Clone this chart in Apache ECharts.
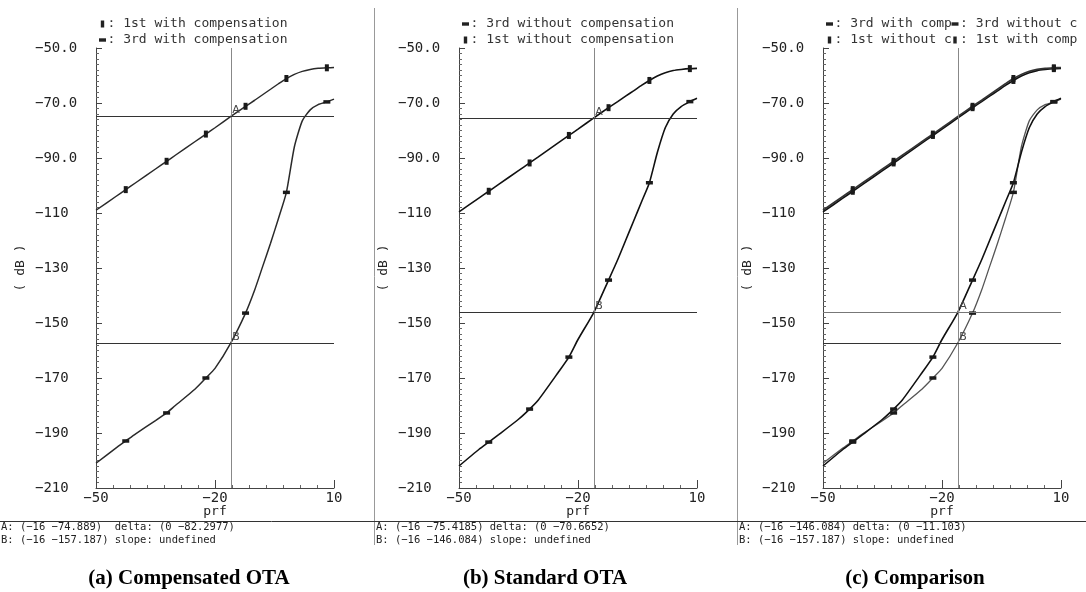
<!DOCTYPE html>
<html><head><meta charset="utf-8">
<script src="https://cdn.jsdelivr.net/npm/echarts@6/dist/echarts.min.js"></script>
<style>html,body{margin:0;padding:0;background:#fff}#c{width:1086px;height:592px}</style>
</head><body><div id="c"></div>
<script>
// ---- data ----
const X = [-50,-45,-42.5,-40,-35,-32.2,-30,-25,-22.3,-20,-16,-12.3,-10,-8,-6,-4,-2,0,2,4,6,8.2,10];
const firstWithComp    = [-109,-104,-101.5,-99,-94,-91.2,-89,-84,-81.3,-79,-74.9,-71.2,-69,-67,-65,-63,-61.1,-59.6,-58.5,-57.8,-57.4,-57.2,-57.1];
const thirdWithComp    = [-201,-195.5,-192.9,-190.3,-185.5,-182.7,-180,-174,-170,-166.5,-157.2,-146.4,-138,-129.5,-121,-112,-102.5,-86,-76.5,-72.5,-70.6,-69.6,-68.6];
const firstWithoutComp = [-109.6,-104.6,-102.1,-99.6,-94.6,-91.8,-89.6,-84.5,-81.8,-79.5,-75.4,-71.7,-69.5,-67.5,-65.6,-63.6,-61.8,-60.2,-59,-58.2,-57.8,-57.5,-57.4];
const thirdWithoutComp = [-202,-196,-193.3,-190.6,-185,-181.3,-178,-168,-162.4,-156,-146.1,-134.4,-127,-120,-113,-106,-99,-88,-79,-74,-71.3,-69.5,-68.3];
const markerX = [-42.5,-32.2,-22.3,-12.3,-2,8.2];
const cursorX = -16;
const cursorA = [-74.889, -75.4185, -146.084];
const cursorB = [-157.187, -146.084, -157.187];
const infoA = ['A: (\u221216 \u221274.889)  delta: (0 \u221282.2977)', 'A: (\u221216 \u221275.4185) delta: (0 \u221270.6652)', 'A: (\u221216 \u2212146.084) delta: (0 \u221211.103)'];
const infoB = ['B: (\u221216 \u2212157.187) slope: undefined', 'B: (\u221216 \u2212146.084) slope: undefined', 'B: (\u221216 \u2212157.187) slope: undefined'];
const captions = ['(a) Compensated OTA', '(b) Standard OTA', '(c) Comparison'];
const N1 = '1st with compensation', N3 = '3rd with compensation';
const M1 = '1st without compensation', M3 = '3rd without compensation';
const yMin = -210, yMax = -50, yStep = 20;
const xMin = -50, xMax = 10, xStep = 30;

// ---- layout ----
const MONO = 'DejaVu Sans Mono';
const gridLeft = [96, 459, 823];
const GT = 48, GW = 238, GH = 440;
const pairs = ys => X.map((x, i) => [x, ys[i]]);
const minus = s => String(s).replace('-', '\u2212');

const panels = [
  { curves: [[N1, firstWithComp, '1st', '#2a2a2a', 1.5], [N3, thirdWithComp, '3rd', '#2a2a2a', 1.5]],
    legend: [[N1, '1st', 0, 0], [N3, '3rd', 0, 1]] },
  { curves: [[M3, thirdWithoutComp, '3rd', '#111', 1.6], [M1, firstWithoutComp, '1st', '#111', 1.6]],
    legend: [[M3, '3rd', 0, 0], [M1, '1st', 0, 1]] },
  { curves: [[N3, thirdWithComp, '3rd', '#555', 1.3], [M3, thirdWithoutComp, '3rd', '#111', 1.6],
             [M1, firstWithoutComp, '1st', '#111', 1.7], [N1, firstWithComp, '1st', '#333', 1.7]],
    legend: [[N3, '3rd', 0, 0], [M3, '3rd', 1, 0], [M1, '1st', 0, 1], [N1, '1st', 1, 1]], trunc: true }
];

const grids = [], xAxes = [], yAxes = [], series = [], graphics = [];
panels.forEach((p, k) => {
  grids.push({ left: gridLeft[k], top: GT, width: GW, height: GH });
  xAxes.push({
    gridIndex: k, type: 'value', min: xMin, max: xMax, interval: xStep,
    axisLine: { onZero: false, lineStyle: { color: '#444', width: 1 } },
    axisTick: { inside: true, length: 8, lineStyle: { color: '#444' } },
    minorTick: { show: true, splitNumber: 7, length: 3, lineStyle: { color: '#666' } },
    splitLine: { show: false }, minorSplitLine: { show: false },
    axisLabel: { margin: 3, color: '#222', fontFamily: MONO, fontSize: 14, formatter: v => minus(v) },
    name: 'prf', nameLocation: 'middle', nameGap: 17, nameMoveOverlap: false,
    nameTextStyle: { color: '#222', fontFamily: MONO, fontSize: 13 }
  });
  yAxes.push({
    gridIndex: k, type: 'value', min: yMin, max: yMax, interval: yStep,
    axisLine: { show: true, onZero: false, lineStyle: { color: '#444', width: 1 } },
    axisTick: { show: true, inside: true, length: 6, lineStyle: { color: '#444' } },
    minorTick: { show: true, splitNumber: 10, length: 3, lineStyle: { color: '#666' } },
    splitLine: { show: false }, minorSplitLine: { show: false },
    axisLabel: { margin: 61, align: 'left', color: '#222', fontFamily: MONO, fontSize: 14,
      padding: [0, 0, 8, 0],
      formatter: v => minus(Math.abs(v) < 100 ? v.toFixed(1) : v) },
    name: '( dB )', nameLocation: 'middle', nameGap: 69, nameMoveOverlap: false,
    nameTextStyle: { color: '#222', fontFamily: MONO, fontSize: 13 }
  });
  p.curves.forEach((c, j) => {
    const [name, ys, kind, color, lw] = c;
    const s = {
      type: 'line', name, xAxisIndex: k, yAxisIndex: k, data: pairs(ys),
      smooth: 0.2, showAllSymbol: true,
      symbol: v => markerX.includes(v[0]) ? 'rect' : 'none',
      symbolSize: kind === '1st' ? [4, 7] : [7, 3.5],
      itemStyle: { color: '#1a1a1a' },
      lineStyle: { color, width: lw }, z: 3
    };
    if (j === 0) {
      s.markLine = {
        silent: true, symbol: 'none', label: { show: false }, animation: false,
        data: [
          { xAxis: cursorX, lineStyle: { color: '#888', width: 1, type: 'solid' } },
          { yAxis: cursorA[k], lineStyle: { color: k === 2 ? '#777' : '#333', width: 1, type: 'solid' } },
          { yAxis: cursorB[k], lineStyle: { color: '#333', width: 1, type: 'solid' } }
        ]
      };
      s.markPoint = {
        silent: true, animation: false,
        data: [['A', cursorA[k]], ['B', cursorB[k]]].map(([t, v]) => ({
          coord: [cursorX, v], symbol: 'rect', symbolSize: 1,
          itemStyle: { color: 'rgba(0,0,0,0)' },
          label: { show: true, formatter: t, position: 'right', distance: 1, offset: [0, -6],
            color: '#444', fontFamily: 'DejaVu Sans', fontSize: 11 }
        }))
      };
    }
    series.push(s);
  });
  // legend (drawn as text + small marker)
  p.legend.forEach(([name, kind, col, row]) => {
    const cx = gridLeft[k] + 6.5 + col * 125.5, cy = 24 + row * 16;
    graphics.push({ type: 'rect', silent: true,
      shape: kind === '1st' ? { x: cx - 1.7, y: cy - 3.5, width: 3.4, height: 7 } : { x: cx - 3.5, y: cy - 1.7, width: 7, height: 3.4 },
      style: { fill: '#222' } });
    const st = { text: ': ' + name, x: cx + 5, y: cy, fill: '#333', font: '13px "' + MONO + '"', verticalAlign: 'middle' };
    if (p.trunc) { st.width = 119; st.overflow = 'truncate'; st.ellipsis = ''; }
    graphics.push({ type: 'text', silent: true, style: st });
  });
  // cursor read-out
  const ix = k === 0 ? 1 : (k === 1 ? 376 : 739);
  graphics.push({ type: 'text', silent: true, style: { text: infoA[k], x: ix, y: 527, fill: '#222', font: '10.5px "' + MONO + '"', verticalAlign: 'middle' } });
  graphics.push({ type: 'text', silent: true, style: { text: infoB[k], x: ix, y: 540, fill: '#222', font: '10.5px "' + MONO + '"', verticalAlign: 'middle' } });
  // caption
  graphics.push({ type: 'text', silent: true, style: { text: captions[k], x: [189, 545, 915][k], y: 579,
    fill: '#000', font: 'bold 21px "Liberation Serif"', align: 'center', verticalAlign: 'middle' } });
});
// separators
[374.5, 737.5].forEach(x => graphics.push({ type: 'line', silent: true, shape: { x1: x, y1: 8, x2: x, y2: 545 }, style: { stroke: '#999', lineWidth: 1 } }));
graphics.push({ type: 'line', silent: true, shape: { x1: 0, y1: 521.5, x2: 1086, y2: 521.5 }, style: { stroke: '#333', lineWidth: 1 } });

const chart = echarts.init(document.getElementById('c'), null, { renderer: 'canvas' });
chart.setOption({
  animation: false, backgroundColor: '#fff',
  grid: grids, xAxis: xAxes, yAxis: yAxes, series, graphic: graphics
});
</script></body></html>
